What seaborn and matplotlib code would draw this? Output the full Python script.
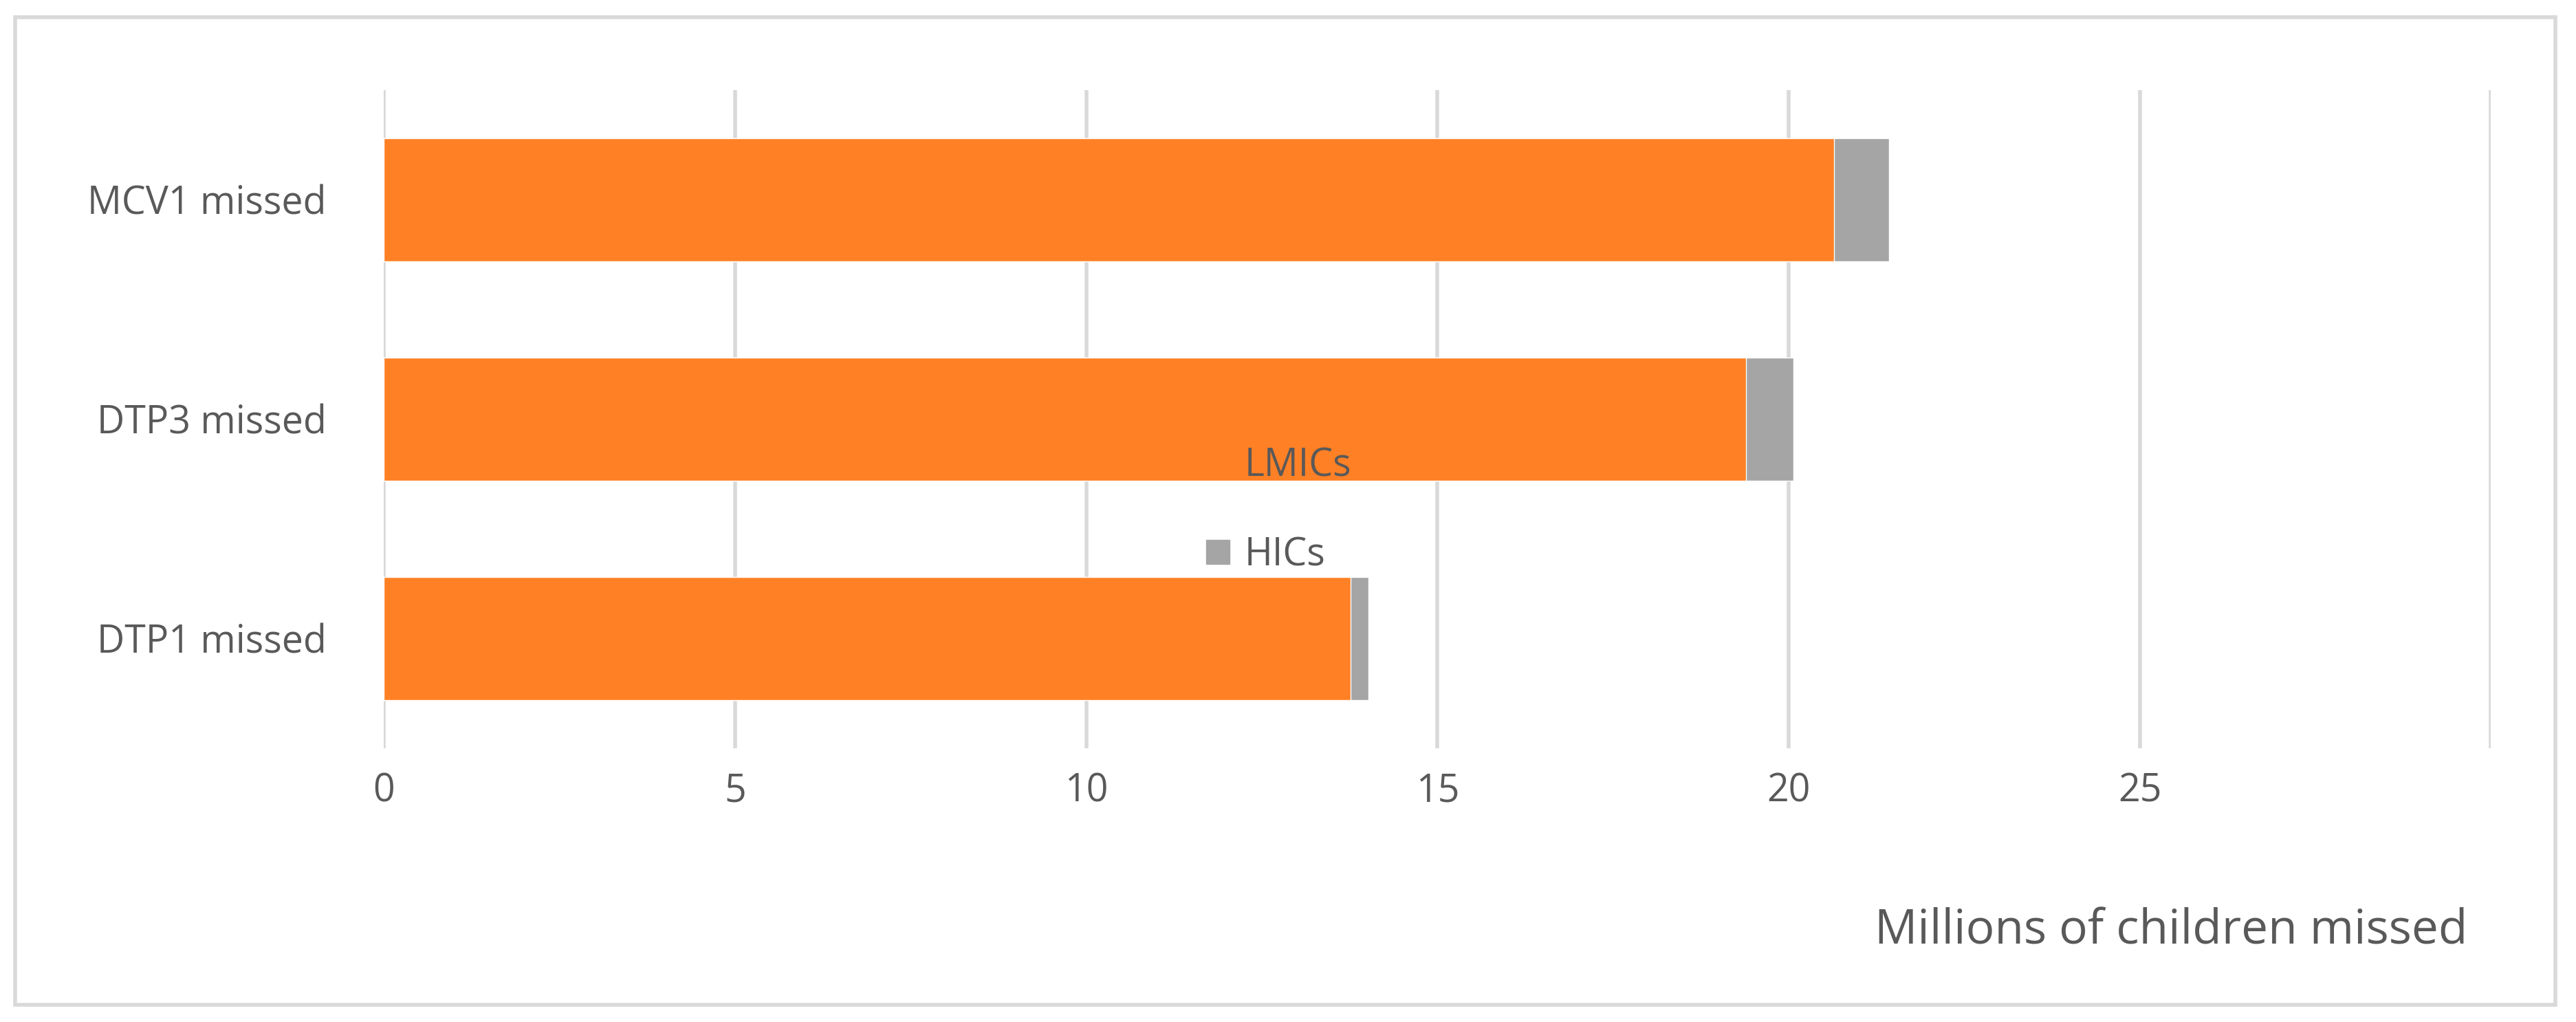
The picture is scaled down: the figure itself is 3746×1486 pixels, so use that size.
import pandas as pd
import seaborn as sns
import matplotlib.pyplot as plt
from matplotlib.patches import Rectangle, Patch

categories = ["MCV1 missed", "DTP3 missed", "DTP1 missed"]
lmics = [20.65, 19.39, 13.76]
hics = [0.78, 0.68, 0.26]
x_ticks = [0, 5, 10, 15, 20, 25]

orange = "#FF8025"
grey = "#A5A5A5"
text_col = "#595959"

df = pd.DataFrame({"cat": categories, "LMICs": lmics, "HICs": hics})
df["total"] = df["LMICs"] + df["HICs"]

sns.set_theme(style="white")
plt.rcParams["font.family"] = ["Open Sans", "DejaVu Sans"]

fig = plt.figure(figsize=(37.46, 14.86), dpi=100)
ax = fig.add_axes([0.149, 0.268, 0.818, 0.644])

sns.barplot(data=df, y="cat", x="total", color=grey, width=0.56, saturation=1, ax=ax, zorder=2)
sns.barplot(data=df, y="cat", x="LMICs", color=orange, width=0.56, saturation=1, ax=ax, zorder=3)

ax.set_xlim(0, 30)
ax.set_xticks(x_ticks)
ax.set_xticklabels([str(t) for t in x_ticks])
for v in x_ticks + [30]:
    ax.axvline(v, color="#D9D9D9", lw=4, zorder=1)
for s in ax.spines.values():
    s.set_visible(False)
ax.set_ylabel("")
ax.set_xlabel("")
ax.tick_params(axis="both", labelsize=40, colors=text_col, length=0, pad=25)
ax.tick_params(axis="y", pad=60)

fig.text(0.958, 0.065, "Millions of children missed", ha="right", va="bottom",
         fontsize=50, color=text_col)

handles = [Patch(color=orange, label="LMICs"), Patch(color=grey, label="HICs")]
fig.legend(handles=handles, loc="center left", bbox_to_anchor=(0.455, 0.5),
           frameon=False, fontsize=40, labelcolor=text_col, handlelength=0.6,
           handleheight=0.6, labelspacing=1.3, handletextpad=0.4)

fig.patches.append(Rectangle((0.006, 0.017), 0.986, 0.966, transform=fig.transFigure,
                             fill=False, edgecolor="#D9D9D9", lw=4))

fig.savefig("out.png", dpi=100)
